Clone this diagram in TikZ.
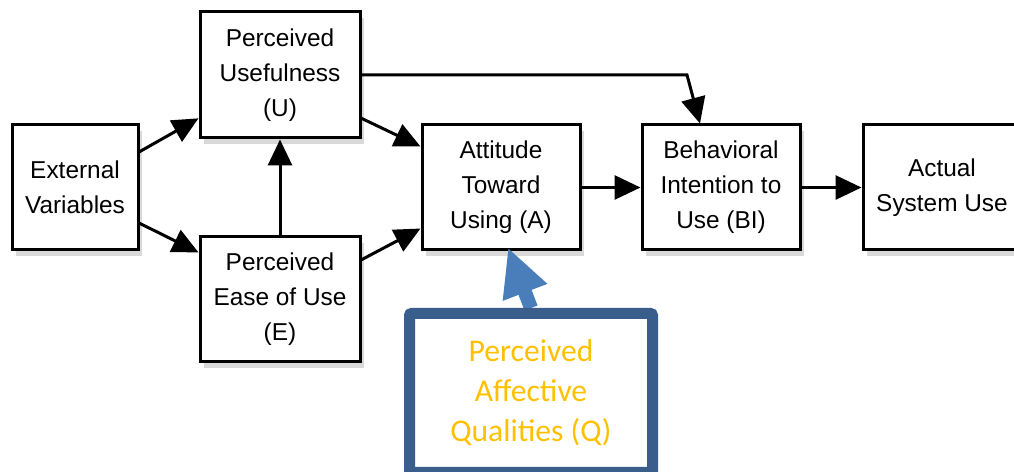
\documentclass[tikz,border=0pt]{standalone}
\usepackage{fontspec}
\setmainfont{Liberation Sans}
\newfontfamily\qfont{Carlito}
\usetikzlibrary{arrows.meta,shadows}
\definecolor{qborder}{HTML}{3A5E8C}
\definecolor{qarrow}{HTML}{4A7EBB}
\definecolor{qgold}{HTML}{FFC000}
\pgfdeclarelayer{front}
\pgfsetlayers{main,front}

\begin{document}
\begin{tikzpicture}[x=0.5pt,y=0.5pt,
  box/.style={draw, line width=1.5pt, fill=white, align=center, inner sep=0pt,
    minimum width=79pt, minimum height=62.5pt, font=\fontsize{12.2}{17.5}\selectfont,
    drop shadow={shadow xshift=2pt, shadow yshift=-3pt, opacity=0.3}},
  link/.style={line width=1.5pt, -{Triangle[length=13pt,width=12pt]}}]
\useasboundingbox (0,0) rectangle (1014,472);
\node[box, minimum width=63pt] at (75,284.5) (ext) {External\\Variables};
\node[box, minimum width=80pt, minimum height=63pt] at (280,397) (pu) {Perceived\\Usefulness\\(U)};
\node[box, minimum width=80pt] at (280,172.5) (pe) {Perceived\\Ease of Use\\(E)};
\node[box] at (501,284.5) (att) {Attitude\\Toward\\Using (A)};
\node[box] at (721,284.5) (bi) {Behavioral\\Intention to\\Use (BI)};
\node[box] at (942,284.5) (use) {Actual\\System Use};
\begin{pgfonlayer}{front}
\node[draw=qborder, line width=5.5pt, rounded corners=1pt, fill=white, align=center,
  minimum width=121.5pt, minimum height=79.5pt, text=qgold,
  font=\qfont\fontsize{15.8}{20}\selectfont] at (531,79) (paq) {Perceived\\Affective\\Qualities (Q)};
\end{pgfonlayer}
\coordinate (bend) at (687,397);
\draw[link] (ext.29) -- (pu.208);
\draw[link] (ext.-29) -- (pe.150);
\draw[link] (pe.north) -- (pu.south);
\draw[link] (pu.-28) -- (att.153);
\draw[link] (pe.26) -- (att.207);
\draw[link] (pu.east) -- (bend) -- ([xshift=-10.5pt]bi.north);
\draw[link] (att.east) -- (bi.west);
\draw[link] (bi.east) -- (use.west);
\draw[qarrow, line width=7pt, -{Triangle[length=24pt,width=22pt]}] (paq.north) -- ([xshift=3.5pt,yshift=2pt]att.south);
\end{tikzpicture}
\end{document}
